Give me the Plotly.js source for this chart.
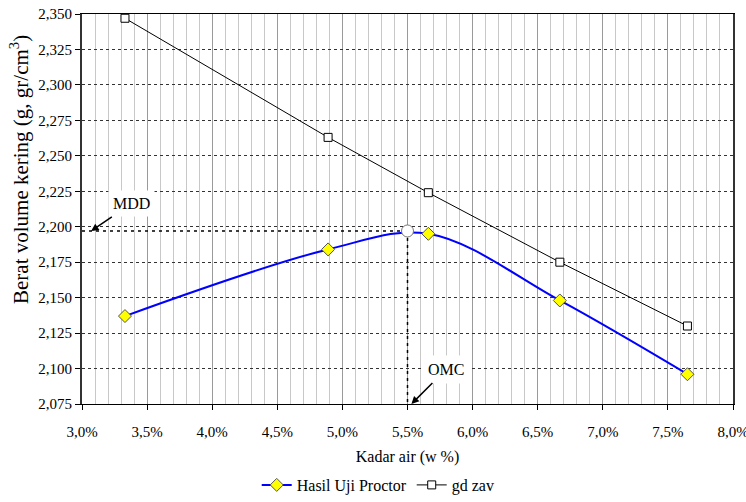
<!DOCTYPE html>
<html>
<head>
<meta charset="utf-8">
<script src="https://cdn.plot.ly/plotly-3.0.1.min.js"></script>
<style>html,body{margin:0;padding:0;background:#fff;}#chart{width:746px;height:502px;}</style>
</head>
<body>
<div id="chart"></div>
<script>
// Data
const proctorX = [3.33, 4.89, 5.66, 6.67, 7.65];
const proctorY = [2.137, 2.184, 2.195, 2.148, 2.096];
const zavX = [3.33, 4.89, 5.66, 6.67, 7.65];
const zavY = [2.347, 2.263, 2.224, 2.175, 2.130];
const omcX = [5.5];
const mddY = [2.197];
const xRange = [3.0, 8.0];
const yRange = [2.075, 2.35];
const seriesNames = ["Hasil Uji Proctor", "gd zav"];
const xTitle = "Kadar air (w %)";
const yTitle = "Berat volume kering (g, gr/cm<sup>3</sup>)";

const FONT = "'Liberation Serif', 'Times New Roman', Times, serif";

const traces = [
  {
    x: [xRange[0], omcX[0]], y: [mddY[0], mddY[0]],
    mode: "lines", showlegend: false, hoverinfo: "skip",
    line: {color: "#000", width: 1.5, dash: "3px,4px"}
  },
  {
    x: [omcX[0], omcX[0]], y: [mddY[0], yRange[0]],
    mode: "lines", showlegend: false, hoverinfo: "skip",
    line: {color: "#000", width: 1.5, dash: "3px,4px"}
  },
  {
    x: proctorX, y: proctorY, name: seriesNames[0],
    mode: "lines+markers",
    line: {color: "#0000ff", width: 2, shape: "spline", smoothing: 1},
    marker: {symbol: "diamond", size: 10, color: "#ffff00", line: {color: "#555", width: 1}}
  },
  {
    x: zavX, y: zavY, name: seriesNames[1],
    mode: "lines+markers",
    line: {color: "#000", width: 1},
    marker: {symbol: "square", size: 8, color: "#fff", line: {color: "#000", width: 1}}
  },
  {
    x: omcX, y: mddY, mode: "markers", showlegend: false,
    marker: {symbol: "circle", size: 12, color: "#fff", line: {color: "#777", width: 1}}
  }
];

const layout = {
  width: 746, height: 502,
  margin: {l: 82, r: 13, t: 14, b: 98},
  paper_bgcolor: "#fff", plot_bgcolor: "#fff",
  separators: ",.",
  font: {family: FONT, size: 15, color: "#000"},
  showlegend: true,
  legend: {
    orientation: "h", xref: "container", yref: "container",
    x: 0.507, xanchor: "center", y: -0.018, yanchor: "bottom",
    font: {family: FONT, size: 16}, itemwidth: 30, tracegroupgap: 0
  },
  xaxis: {
    range: xRange, dtick: 0.5, tick0: 3.0,
    tickformat: ".1f", ticksuffix: "%",
    ticks: "outside", ticklen: 5, tickcolor: "#000",
    ticklabelstandoff: 9, ticklabeloverflow: "allow",
    showline: true, linecolor: "#000", linewidth: 1, mirror: true,
    showgrid: true, gridcolor: "#9a9a9a", gridwidth: 1,
    minor: {dtick: 0.1, showgrid: true, gridcolor: "#c8c8c8", gridwidth: 1},
    zeroline: false,
    tickfont: {family: FONT, size: 15},
    title: {text: xTitle, font: {family: FONT, size: 16}, standoff: 11}
  },
  yaxis: {
    range: yRange, dtick: 0.025, tick0: 2.075,
    tickformat: ".3f",
    ticks: "outside", ticklen: 5, tickcolor: "#000",
    showline: true, linecolor: "#333", linewidth: 2, mirror: true,
    showgrid: true, gridcolor: "#333", gridwidth: 1, griddash: "dot",
    zeroline: false,
    tickfont: {family: FONT, size: 15}
  },
  annotations: [
    {
      text: yTitle, xref: "paper", yref: "paper",
      x: 0, y: 0.6, xshift: -63, xanchor: "center", yanchor: "middle",
      textangle: -90, showarrow: false,
      font: {family: FONT, size: 21, color: "#000"}
    },
    {
      x: xRange[0] + 0.07, y: mddY[0], xref: "x", yref: "y",
      text: "MDD", showarrow: true, ax: 40, ay: -27,
      arrowhead: 2, arrowsize: 1, arrowwidth: 1.5, arrowcolor: "#000",
      bgcolor: "#fff", borderpad: 4,
      font: {family: FONT, size: 16, color: "#000"}
    },
    {
      x: omcX[0] + 0.03, y: yRange[0], xref: "x", yref: "y",
      text: "OMC", showarrow: true, ax: 35, ay: -35,
      arrowhead: 2, arrowsize: 1, arrowwidth: 1.5, arrowcolor: "#000",
      bgcolor: "#fff", borderpad: 5,
      font: {family: FONT, size: 16, color: "#000"}
    }
  ]
};

Plotly.newPlot("chart", traces, layout, {displayModeBar: false, staticPlot: true});
</script>
</body>
</html>
